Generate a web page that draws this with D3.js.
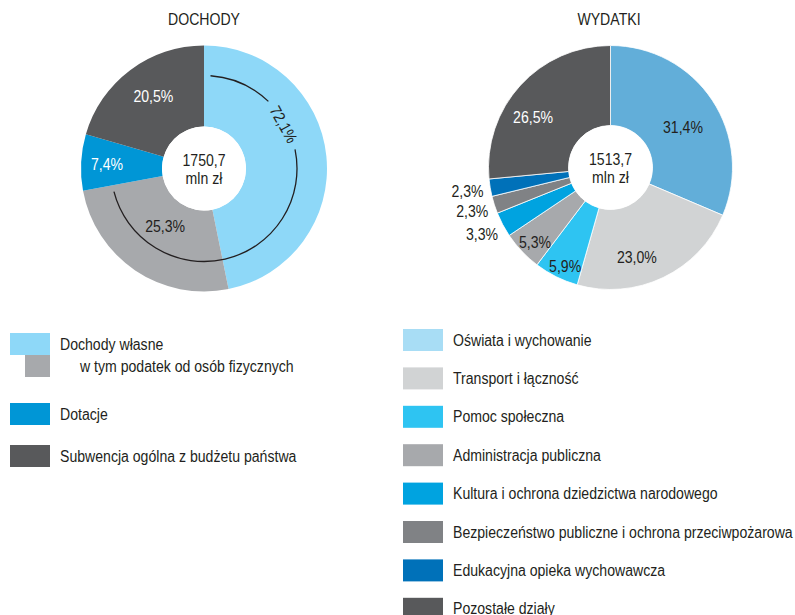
<!DOCTYPE html>
<html>
<head>
<meta charset="utf-8">
<script src="https://cdn.jsdelivr.net/npm/d3@7"></script>
<style>
  body { margin: 0; background: #fff; }
  text { font-family: "Liberation Sans", Arial, sans-serif; font-size: 16px; }
</style>
</head>
<body>
<div id="chart"></div>
<script>
// dochody (income) - slices clockwise from 12 o'clock
var incomeNames = ['Dochody własne (pozostałe)', 'w tym podatek od osób fizycznych', 'Dotacje', 'Subwencja ogólna z budżetu państwa'];
var incomeValues = [46.8, 25.3, 7.4, 20.5];
var incomeLabels = ['', '25,3%', '7,4%', '20,5%'];
var incomeColors = ['#8ed8f8', '#a7a9ac', '#0096d6', '#58595b'];
var incomeOwnLabel = '72,1%';
var incomeOwnShare = 72.1;

// wydatki (spending)
var spendNames = ['Oświata i wychowanie', 'Transport i łączność', 'Pomoc społeczna', 'Administracja publiczna',
  'Kultura i ochrona dziedzictwa narodowego', 'Bezpieczeństwo publiczne i ochrona przeciwpożarowa',
  'Edukacyjna opieka wychowawcza', 'Pozostałe działy'];
var spendValues = [31.4, 23.0, 5.9, 5.3, 3.3, 2.3, 2.3, 26.5];
var spendLabels = ['31,4%', '23,0%', '5,9%', '5,3%', '3,3%', '2,3%', '2,3%', '26,5%'];
var spendColors = ['#62aed9', '#d1d3d4', '#2ec4f2', '#a7a9ac', '#00a3e0', '#808285', '#0071b9', '#58595b'];
var spendLegendColors = ['#a8ddf5', '#d1d3d4', '#2ec4f2', '#a7a9ac', '#00a3e0', '#808285', '#0071b9', '#58595b'];

var totals = ['1750,7', '1513,7'];
var titles = ['DOCHODY', 'WYDATKI'];

var w = 795, h = 615;
var svg = d3.select('#chart').append('svg').attr('width', w).attr('height', h);

var rOut = 123, rIn = 42;
var pie = d3.pie().sort(null).value(function(d) { return d; });
var arc = d3.arc().innerRadius(rIn).outerRadius(rOut);

function polar(r, a) { return [r * Math.sin(a), -r * Math.cos(a)]; }

//---- left pie
var g1 = svg.append('g').attr('transform', 'translate(204,168.5)');
var arcs1 = pie(incomeValues);
g1.selectAll('path.slice').data(arcs1).enter().append('path')
  .attr('class', 'slice')
  .attr('d', arc)
  .attr('fill', function(d, i) { return incomeColors[i]; });

// label spots (radius, angle) per slice
var lab1Pos = [null, [70, 3.73], [97, 4.75], [88, 5.67]];
g1.selectAll('text.lab').data(arcs1.filter(function(d) { return incomeLabels[d.index] !== ''; }))
  .enter().append('text')
  .attr('class', 'lab')
  .attr('transform', function(d) {
    var c = polar(lab1Pos[d.index][0], lab1Pos[d.index][1]);
    return 'translate(' + c[0] + ',' + c[1] + ')';
  })
  .attr('text-anchor', 'middle').attr('dy', '0.35em')
  .attr('fill', function(d) { return d.index === 1 ? '#231f20' : '#fff'; })
  .text(function(d) { return incomeLabels[d.index]; });

// bracket arc for own income
var ownEnd = incomeOwnShare / 100 * 2 * Math.PI;
var br = 93, pad = 0.07;
var textA = 61 * Math.PI / 180, gap = 0.3;
function arcPath(a0, a1) {
  var p = d3.path();
  p.arc(0, 0, br, a0 - Math.PI / 2, a1 - Math.PI / 2);
  return p.toString();
}
g1.append('path').attr('d', arcPath(pad, textA - gap)).attr('fill', 'none').attr('stroke', '#231f20').attr('stroke-width', 1.3);
g1.append('path').attr('d', arcPath(textA + gap, ownEnd - pad)).attr('fill', 'none').attr('stroke', '#231f20').attr('stroke-width', 1.3);
var tp = polar(br - 2, textA);
g1.append('text')
  .attr('transform', 'translate(' + tp[0] + ',' + tp[1] + ') rotate(' + (textA * 180 / Math.PI) + ')')
  .attr('text-anchor', 'middle').attr('dy', '0.35em')
  .attr('fill', '#231f20')
  .text(incomeOwnLabel);

//---- right pie
var rOut2 = 122;
var arc2 = d3.arc().innerRadius(rIn).outerRadius(rOut2);
var g2 = svg.append('g').attr('transform', 'translate(610.5,167.5)');
var arcs2 = pie(spendValues);
g2.selectAll('path.slice').data(arcs2).enter().append('path')
  .attr('class', 'slice')
  .attr('d', arc2)
  .attr('fill', function(d, i) { return spendColors[i]; })
  .attr('stroke', '#fff').attr('stroke-width', 0.8);

var lab2Pos = [[83, 1.061], [94, 2.857], [109, 3.571], [106, 3.934], null, null, null, [92, 5.283]];
g2.selectAll('text.lab').data(arcs2).enter().append('text')
  .attr('class', 'lab')
  .attr('transform', function(d) {
    var c;
    if (lab2Pos[d.index] === null) {
      // small slices: label outside the ring
      c = polar(142, (d.startAngle + d.endAngle) / 2);
      c[0] -= 3;
    } else {
      c = polar(lab2Pos[d.index][0], lab2Pos[d.index][1]);
    }
    return 'translate(' + c[0] + ',' + c[1] + ')';
  })
  .attr('text-anchor', 'middle')
  .attr('dy', '0.35em')
  .attr('fill', function(d) { return d.index === 7 ? '#fff' : '#231f20'; })
  .text(function(d) { return spendLabels[d.index]; });

//---- centers and titles
[g1, g2].forEach(function(g, i) {
  g.append('circle').attr('r', rIn).attr('fill', '#fff');
  g.append('text').attr('text-anchor', 'middle').attr('y', -3).attr('fill', '#231f20').text(totals[i]);
  g.append('text').attr('text-anchor', 'middle').attr('y', 15).attr('fill', '#231f20').text('mln zł');
});
svg.selectAll('text.title').data(titles).enter().append('text')
  .attr('class', 'title')
  .attr('x', function(d, i) { return i === 0 ? 204 : 609; })
  .attr('y', 25)
  .attr('text-anchor', 'middle')
  .attr('fill', '#231f20')
  .text(function(d) { return d; });

//---- left legend
var leftLeg = [
  { name: 'Dochody własne', color: incomeColors[0], x: 10, y: 333, w: 40, tx: 60 },
  { name: 'w tym podatek od osób fizycznych', color: incomeColors[1], x: 25, y: 355, w: 25, tx: 80 },
  { name: 'Dotacje', color: incomeColors[2], x: 10, y: 403, w: 40, tx: 60 },
  { name: 'Subwencja ogólna z budżetu państwa', color: incomeColors[3], x: 10, y: 445, w: 40, tx: 60 }
];
var ll = svg.selectAll('g.ll').data(leftLeg).enter().append('g').attr('class', 'll');
ll.append('rect').attr('x', function(d) { return d.x; }).attr('y', function(d) { return d.y; })
  .attr('width', function(d) { return d.w; }).attr('height', 22).attr('fill', function(d) { return d.color; });
ll.append('text').attr('x', function(d) { return d.tx; }).attr('y', function(d) { return d.y + 11; })
  .attr('dy', '0.35em').attr('fill', '#231f20')
  .text(function(d) { return d.name; });

//---- right legend
var rowY = d3.scaleLinear().domain([0, 1]).range([329, 367.4]);
var rl = svg.selectAll('g.rl').data(spendNames).enter().append('g').attr('class', 'rl');
rl.append('rect').attr('x', 403).attr('y', function(d, i) { return rowY(i); })
  .attr('width', 40).attr('height', 22).attr('fill', function(d, i) { return spendLegendColors[i]; });
rl.append('text').attr('x', 453).attr('y', function(d, i) { return rowY(i) + 11; })
  .attr('dy', '0.35em').attr('fill', '#231f20')
  .text(function(d) { return d; });

// the original uses a condensed face; squeeze glyphs a little
svg.selectAll('text').each(function() {
  var len = this.getComputedTextLength();
  d3.select(this).attr('textLength', len * 0.88).attr('lengthAdjust', 'spacingAndGlyphs');
});
</script>
</body>
</html>
